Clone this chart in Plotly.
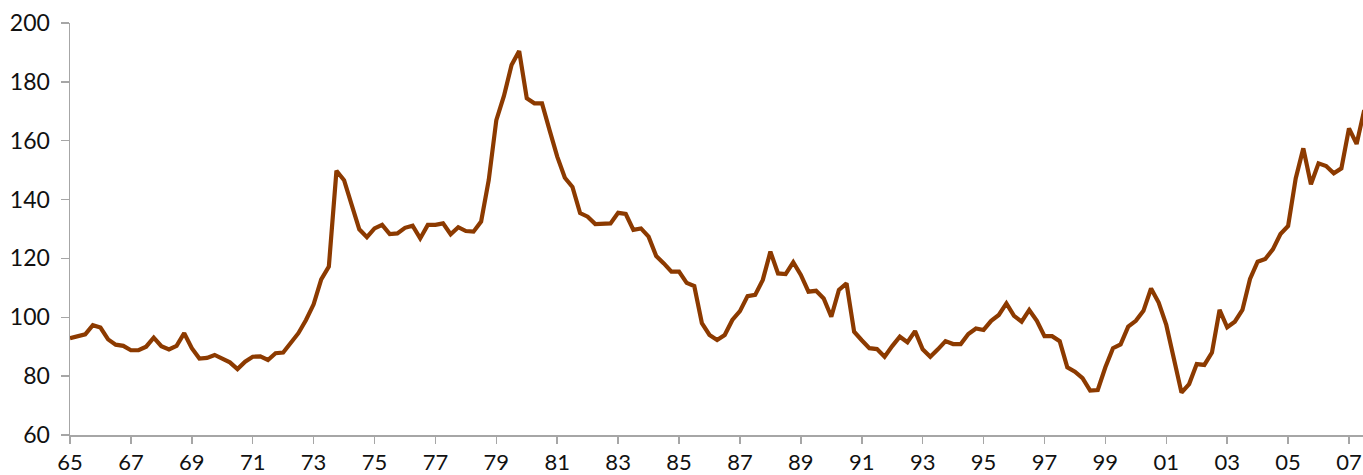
import plotly.graph_objects as go

start_year = 1965
values = [
    92.9, 93.5, 94.2, 97.3, 96.5, 92.5, 90.7, 90.3, 88.8, 88.8,
    90.0, 93.1, 90.2, 89.1, 90.3, 94.6, 89.5, 86.0, 86.2, 87.2,
    86.0, 84.7, 82.4, 84.9, 86.6, 86.7, 85.5, 87.8, 88.0, 91.4,
    94.6, 99.1, 104.4, 112.9, 117.2, 149.8, 146.6, 138.2, 129.9, 127.2,
    130.2, 131.4, 128.3, 128.5, 130.4, 131.1, 126.8, 131.4, 131.4, 131.9,
    128.2, 130.6, 129.3, 129.1, 132.5, 146.6, 167.0, 175.2, 185.7, 190.5,
    174.4, 172.7, 172.7, 163.5, 154.6, 147.4, 144.3, 135.4, 134.2, 131.7,
    131.7, 131.9, 135.5, 135.1, 129.7, 130.2, 127.4, 120.8, 118.3, 115.5,
    115.5, 111.7, 110.6, 98.0, 94.0, 92.3, 94.0, 99.1, 102.1, 107.2,
    107.6, 112.7, 122.3, 114.9, 114.7, 118.7, 114.4, 108.7, 109.0, 106.4,
    100.2, 109.3, 111.5, 95.1, 92.2, 89.5, 89.2, 86.6, 90.2, 93.4,
    91.5, 95.3, 89.1, 86.6, 89.1, 91.9, 90.9, 90.9, 94.3, 96.2,
    95.7, 98.8, 100.8, 104.7, 100.5, 98.5, 102.5, 98.8, 93.6, 93.6,
    91.9, 83.0, 81.5, 79.3, 75.1, 75.3, 83.0, 89.5, 90.8, 96.8,
    98.8, 102.2, 109.8, 105.0, 97.4, 85.5, 74.4, 77.3, 84.1, 83.8,
    88.0, 102.5, 96.6, 98.5, 102.5, 113.0, 118.9, 119.8, 123.1, 128.3,
    131.0, 147.2, 157.4, 145.2, 152.3, 151.4, 148.9, 150.6, 164.2, 158.9,
    170.4,
]
quarters = [start_year + i / 4 for i in range(len(values))]

tick_years = list(range(1965, 2008, 2))
tick_labels = ["%02d" % (y % 100) for y in tick_years]
y_ticks = [60, 80, 100, 120, 140, 160, 180, 200]

fig = go.Figure()
fig.add_trace(go.Scatter(
    x=quarters, y=values, mode="lines",
    line=dict(color="#8C3A00", width=4.2),
    hoverinfo="skip",
))

axis_color = "#A6A6A6"
fig.update_layout(
    width=1363, height=475,
    margin=dict(l=70, r=0, t=23, b=40),
    paper_bgcolor="white", plot_bgcolor="white",
    showlegend=False,
    font=dict(family="Lato", size=23, color="#111111"),
    xaxis=dict(
        range=[1965, 2007.46],
        tickvals=tick_years, ticktext=tick_labels,
        tickfont=dict(size=22),
        showgrid=False, zeroline=False, automargin=False,
        showline=True, linecolor=axis_color, linewidth=1.5,
        ticks="outside", ticklen=7, tickcolor=axis_color, tickwidth=1.5,
        ticklabelstandoff=0,
    ),
    yaxis=dict(
        range=[60, 200],
        tickvals=y_ticks,
        showgrid=False, zeroline=False, automargin=False,
        showline=True, linecolor=axis_color, linewidth=1.5,
        ticks="outside", ticklen=8, tickcolor=axis_color, tickwidth=1.5,
        ticklabelstandoff=6,
    ),
)

fig.write_html("out.html", config={"displayModeBar": False, "staticPlot": True})

# remove the browser's default page margin so the figure sits at (0, 0)
with open("out.html", encoding="utf-8") as f:
    html = f.read()
html = html.replace("<head>", "<head><style>html,body{margin:0;padding:0;overflow:hidden;}</style>", 1)
with open("out.html", "w", encoding="utf-8") as f:
    f.write(html)
